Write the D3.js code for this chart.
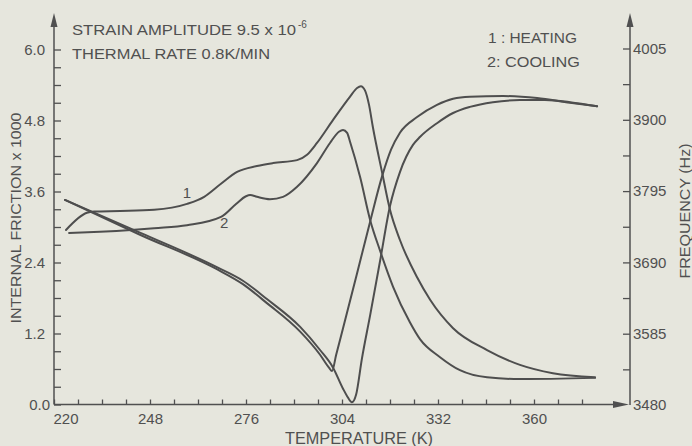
<!DOCTYPE html>
<html>
<head>
<meta charset="utf-8">
<script src="https://cdn.jsdelivr.net/npm/d3@7"></script>
<style>
  body { margin: 0; background: #e6e6dd; }
  svg { display: block; }
  text { font-family: "Liberation Sans", Arial, sans-serif; fill: #505050; }
</style>
</head>
<body>
<svg width="692" height="446"></svg>
<script>
// temperatures (K) and values
var ifHeatT   = [223.5, 229.6, 231.7, 239.3, 249.2, 258.8, 263.8, 268.7, 273.4, 279.2, 283.9, 290.9, 293.8, 296.7, 301.4, 306.3, 308.4, 309.5, 310.7, 311.9, 313.0, 315.7, 318.0, 320.9, 325.9, 329.7, 336.4, 346.3, 355.9, 365.5, 377.8];
var ifHeatVal = [2.95, 3.24, 3.26, 3.27, 3.29, 3.39, 3.51, 3.73, 3.93, 4.03, 4.08, 4.13, 4.22, 4.42, 4.81, 5.20, 5.35, 5.38, 5.31, 5.06, 4.69, 3.92, 3.29, 2.78, 2.15, 1.77, 1.29, 0.92, 0.67, 0.53, 0.46];

var ifCoolT   = [224.4, 233.4, 242.5, 249.2, 258.8, 268.7, 273.1, 276.0, 277.2, 279.2, 283.0, 286.8, 290.9, 296.7, 300.5, 303.1, 304.3, 305.5, 306.3, 309.3, 312.2, 315.1, 318.9, 323.8, 326.8, 332.6, 338.4, 346.3, 355.9, 377.8];
var ifCoolVal = [2.90, 2.92, 2.95, 2.98, 3.03, 3.17, 3.39, 3.52, 3.54, 3.51, 3.47, 3.51, 3.68, 4.08, 4.42, 4.61, 4.64, 4.59, 4.45, 3.84, 3.12, 2.60, 1.99, 1.39, 1.10, 0.80, 0.58, 0.46, 0.43, 0.45];

var fHeatT  = [223.2, 245.4, 267.5, 275.1, 282.1, 291.8, 297.6, 301.4, 304.3, 305.5, 306.9, 308.1, 309.8, 312.2, 315.1, 318.0, 320.9, 324.7, 326.8, 331.7, 336.4, 341.3, 348.0, 355.9, 363.2, 370.5, 378.4];
var fHeatHz = [3782, 3733, 3683, 3663, 3636, 3595, 3561, 3535, 3504, 3493, 3484, 3495, 3548, 3612, 3692, 3773, 3823, 3863, 3875, 3895, 3910, 3919, 3926, 3929, 3929, 3926, 3920];

var fCoolT  = [223.2, 245.4, 267.5, 275.1, 282.1, 291.8, 297.6, 300.2, 301.1, 302.3, 304.3, 308.4, 312.2, 315.7, 318.3, 320.9, 325.9, 331.7, 336.4, 341.3, 351.0, 360.9, 370.5, 378.4];
var fCoolHz = [3782, 3730, 3680, 3658, 3630, 3588, 3554, 3535, 3530, 3554, 3593, 3674, 3750, 3817, 3856, 3881, 3904, 3922, 3931, 3934, 3935, 3932, 3925, 3920];

var xLabels = [220, 248, 276, 304, 332, 360];
var yLabels = [0, 1.2, 2.4, 3.6, 4.8, 6.0];
var fLabels = [3480, 3585, 3690, 3795, 3900, 4005];

var curveNames = [{t: 258.8, v: 3.49, name: "1"}, {t: 269.6, v: 2.98, name: "2"}];

var ink = "#505050";

var svg = d3.select("svg");

var x = d3.scaleLinear().domain([220, 388]).range([54, 630]);
var yL = d3.scaleLinear().domain([0, 6]).range([404.5, 49.5]);
var yR = d3.scaleLinear().domain([3480, 4005]).range([405, 48.5]);

function near(a, list) {
  return list.some(function(b) { return Math.abs(a - b) < 1e-6; });
}

// bottom axis
var gx = svg.append("g").attr("transform", "translate(0,404.5)")
  .call(d3.axisBottom(x)
    .tickValues(d3.range(220, 375, 7))
    .tickSize(-5).tickSizeOuter(0).tickPadding(9)
    .tickFormat(function(d) { return near(d, xLabels) ? d : ""; }));
gx.select(".domain").remove();
gx.selectAll("line").attr("stroke", ink).attr("stroke-width", 1.3);
gx.selectAll("text").style("font-size", "15px").attr("fill", ink);
gx.selectAll(".tick").filter(function(d) { return d === 220; })
  .select("text").attr("text-anchor", "start").attr("x", -1);

// left axis
var gl = svg.append("g").attr("transform", "translate(54,0)")
  .call(d3.axisLeft(yL)
    .tickValues(d3.range(0, 6.01, 0.3))
    .tickSize(-7).tickSizeOuter(0).tickPadding(9)
    .tickFormat(function(d) { return near(d, yLabels) ? d.toFixed(1) : ""; }));
gl.select(".domain").remove();
gl.selectAll("line").attr("stroke", ink).attr("stroke-width", 1.3);
gl.selectAll("text").style("font-size", "15px").attr("fill", ink);
gl.selectAll(".tick").filter(function(d) { return d === 0; })
  .select("text").attr("x", -4);

// right axis
var gr = svg.append("g").attr("transform", "translate(630,0)")
  .call(d3.axisRight(yR)
    .tickValues(d3.range(3532.5, 4006, 52.5))
    .tickSize(-7).tickSizeOuter(0).tickPadding(3)
    .tickFormat(function(d) { return near(d, fLabels) ? d : ""; }));
gr.select(".domain").remove();
gr.selectAll("line").attr("stroke", ink).attr("stroke-width", 1.3);
gr.selectAll("text").style("font-size", "15px").attr("fill", ink);
gr.append("text").attr("x", 3).attr("y", yR(3480)).attr("dy", "0.32em")
  .style("font-size", "15px").attr("fill", ink).text("3480");

// axis lines with arrow heads
var axes = svg.append("g").attr("stroke", ink).attr("stroke-width", 1.5).attr("fill", "none");
axes.append("line").attr("x1", 54).attr("y1", 404.5).attr("x2", 54).attr("y2", 18);
axes.append("line").attr("x1", 630).attr("y1", 405).attr("x2", 630).attr("y2", 18);
axes.append("line").attr("x1", 54).attr("y1", 404.5).attr("x2", 620).attr("y2", 404.5);
var heads = svg.append("g").attr("fill", ink);
heads.append("path").attr("d", "M54,13 L50.5,27 L57.5,27 Z");
heads.append("path").attr("d", "M630,13 L626.5,27 L633.5,27 Z");
heads.append("path").attr("d", "M629,404.5 L613,401 L613,408 Z");

// curves
function zip(a, b) { return a.map(function(t, i) { return [t, b[i]]; }); }

var lineL = d3.line().x(function(d) { return x(d[0]); }).y(function(d) { return yL(d[1]); })
  .curve(d3.curveMonotoneX);
var lineR = d3.line().x(function(d) { return x(d[0]); }).y(function(d) { return yR(d[1]); })
  .curve(d3.curveMonotoneX);

var curves = svg.append("g").attr("fill", "none").attr("stroke", "#4e4e4e")
  .attr("stroke-width", 2).attr("stroke-linejoin", "round").attr("stroke-linecap", "round");
curves.append("path").attr("d", lineL(zip(ifHeatT, ifHeatVal)));
curves.append("path").attr("d", lineL(zip(ifCoolT, ifCoolVal)));
curves.append("path").attr("d", lineR(zip(fHeatT, fHeatHz)));
curves.append("path").attr("d", lineR(zip(fCoolT, fCoolHz)));

svg.append("g").selectAll("text").data(curveNames).enter().append("text")
  .attr("x", function(d) { return x(d.t); })
  .attr("y", function(d) { return yL(d.v); })
  .attr("text-anchor", "middle")
  .style("font-size", "15px")
  .text(function(d) { return d.name; });

// annotations
svg.append("text").attr("x", 72).attr("y", 35).style("font-size", "15px")
  .attr("textLength", 224).attr("lengthAdjust", "spacingAndGlyphs")
  .text("STRAIN AMPLITUDE 9.5 x 10");
svg.append("text").attr("x", 298).attr("y", 28).style("font-size", "10px").text("-6");
svg.append("text").attr("x", 72).attr("y", 59).style("font-size", "15px")
  .attr("textLength", 198).attr("lengthAdjust", "spacingAndGlyphs")
  .text("THERMAL RATE 0.8K/MIN");

svg.append("text").attr("x", 488).attr("y", 43).style("font-size", "14px")
  .attr("textLength", 89).attr("lengthAdjust", "spacingAndGlyphs").text("1 :  HEATING");
svg.append("text").attr("x", 487).attr("y", 67).style("font-size", "14px")
  .attr("textLength", 93).attr("lengthAdjust", "spacingAndGlyphs").text("2:  COOLING");

// axis titles
svg.append("text").attr("transform", "translate(21,218) rotate(-90)")
  .attr("text-anchor", "middle").style("font-size", "14px")
  .attr("textLength", 211).attr("lengthAdjust", "spacingAndGlyphs")
  .text("INTERNAL  FRICTION  x  1000");
svg.append("text").attr("transform", "translate(690,211) rotate(-90)")
  .attr("text-anchor", "middle").style("font-size", "15px")
  .attr("textLength", 135).attr("lengthAdjust", "spacingAndGlyphs")
  .text("FREQUENCY  (Hz)");
svg.append("text").attr("x", 359).attr("y", 444)
  .attr("text-anchor", "middle").style("font-size", "16px")
  .attr("textLength", 148).attr("lengthAdjust", "spacingAndGlyphs")
  .text("TEMPERATURE  (K)");
</script>
</body>
</html>
